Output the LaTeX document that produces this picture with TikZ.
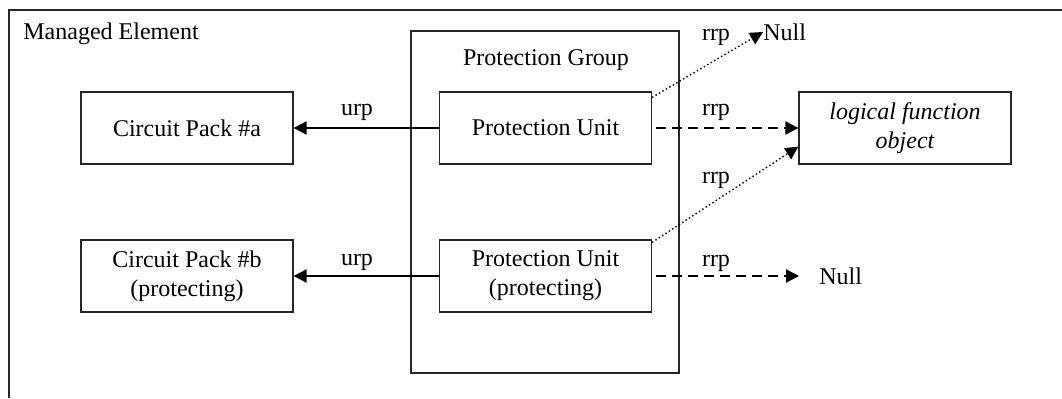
\documentclass[tikz,border=0pt]{standalone}
\usepackage{fontspec}
\setmainfont{Liberation Serif}
\usetikzlibrary{arrows.meta,calc}
\tikzset{
  box/.style={draw=black!85, line width=0.6pt, minimum width=106pt, minimum height=36pt, align=center, inner sep=0pt},
  lbl/.style={inner sep=0pt},
  tipstyle/.style={-{Triangle[length=6.5pt,width=6.5pt]}},
  solidarrow/.style={tipstyle, line width=1pt},
  dasharrow/.style={tipstyle, line width=1pt, dash pattern=on 5pt off 3pt},
  dotarrow/.style={tipstyle, line width=0.7pt, dash pattern=on 0.7pt off 1.3pt},
}
\begin{document}
\begin{tikzpicture}[x=0.5pt,y=-0.5pt, font=\fontsize{12pt}{14.5pt}\selectfont]
\useasboundingbox (0,0) rectangle (1062,398);
\draw[line width=0.6pt, black!85] (9,398) -- (9,10) -- (1062,10);
\node[lbl, anchor=west] (me) at (23,34) {Managed Element};

\node[box] (cpa) at (187,128) {Circuit Pack \#a};
\node[box] (cpb) at (187,276) {Circuit Pack \#b\\(protecting)};
\node[box, minimum width=134pt, minimum height=171pt] (pg) at (545,202) {};
\node[lbl] (pglabel) at (546,60) {Protection Group};
\node[box] (pu) at (545.5,128) {Protection Unit};
\node[box] (pup) at (545.5,276) {Protection Unit\\(protecting)};
\node[box, font=\fontsize{12pt}{14.5pt}\selectfont\itshape] (lfo) at (905,128) {logical function\\object};
\node[lbl, anchor=west] (null1) at (763,32) {Null};
\node[lbl, anchor=west, inner xsep=10pt] (null2) at (799,276) {Null};

\draw[solidarrow] (pu.west) -- (cpa.east);
\node[lbl] (urp1) at (357,112) {urp};
\draw[solidarrow] (pup.west) -- (cpb.east);
\node[lbl] (urp2) at (357,262) {urp};

\draw[dasharrow, shorten <=2pt] (pu.east) -- (lfo.west);
\node[lbl] (rrp1) at (716,112) {rrp};
\draw[dasharrow, shorten <=2pt] (pup.east) -- (null2.west);
\node[lbl] (rrp2) at (716,263) {rrp};

\draw[dotarrow] ($(pu.north east)+(0,6)$) -- (null1.west);
\node[lbl] (rrp3) at (716,37) {rrp};
\draw[dotarrow] ($(pup.north east)+(0,3)$) -- ($(lfo.south west)+(0,-18)$);
\node[lbl] (rrp4) at (716,180) {rrp};
\end{tikzpicture}
\end{document}
